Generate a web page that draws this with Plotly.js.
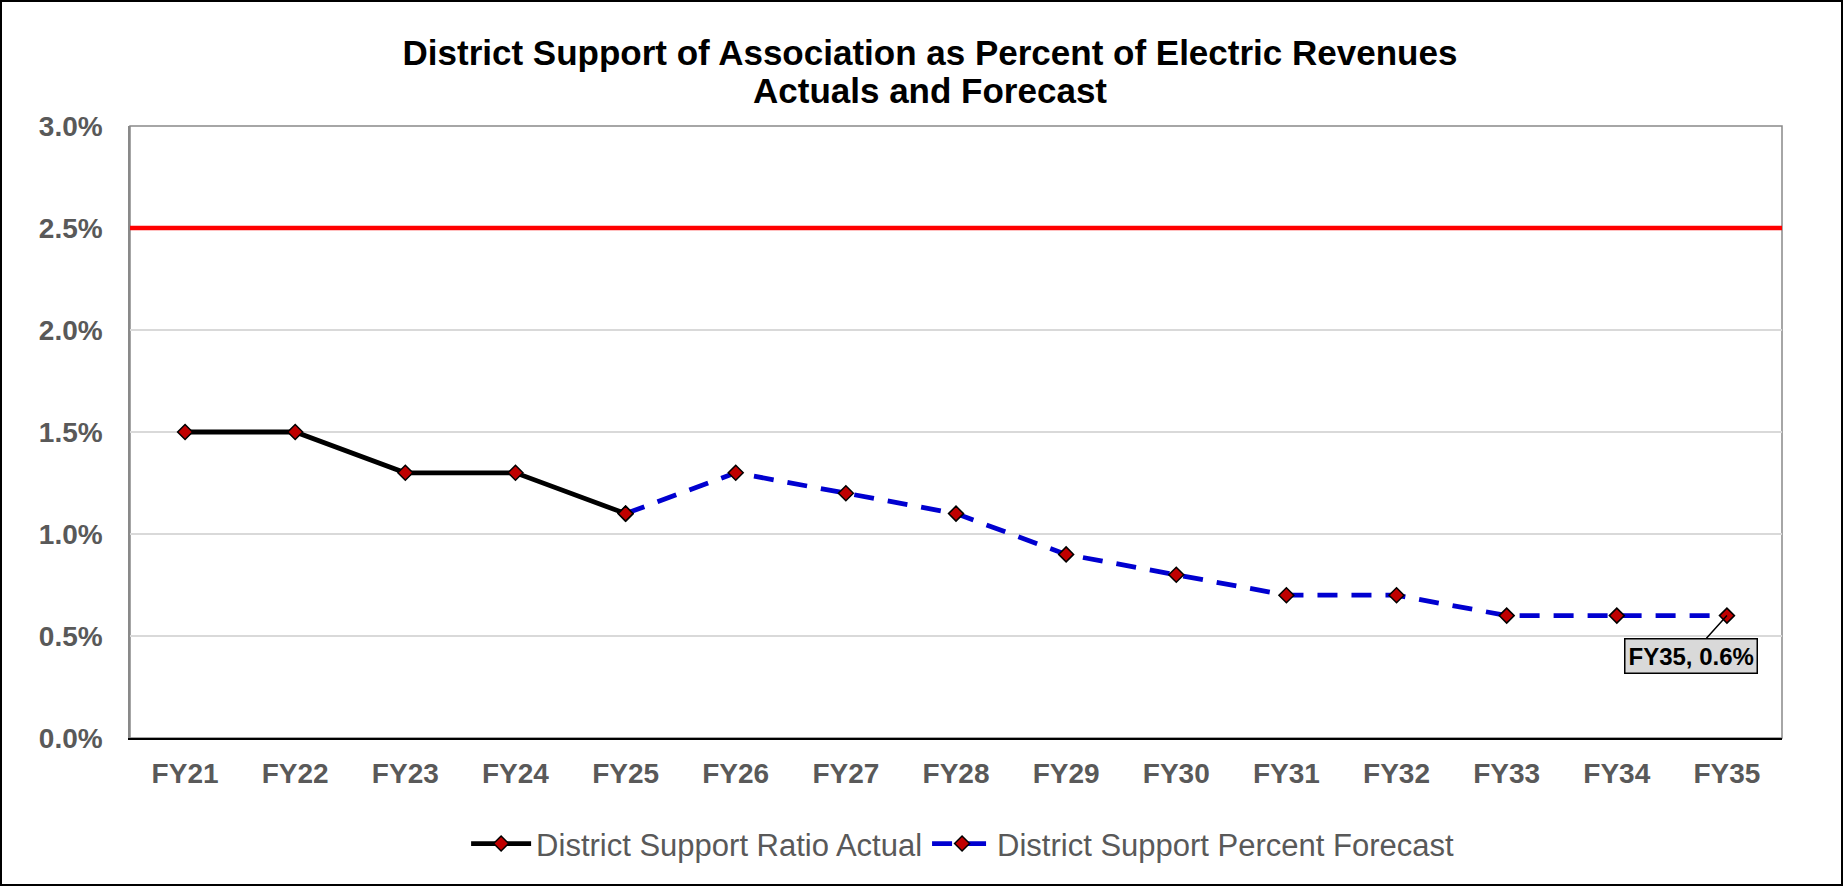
<!DOCTYPE html>
<html>
<head>
<meta charset="utf-8">
<script src="https://cdn.plot.ly/plotly-3.0.1.min.js"></script>
<style>
  html, body { margin: 0; padding: 0; background: #fff; }
  #wrap { width: 1843px; height: 886px; box-sizing: border-box; border: 2px solid #000; }
  #chart { width: 1839px; height: 882px; }
</style>
</head>
<body>
<div id="wrap"><div id="chart"></div></div>
<script>
// ---- data ----
const categories = ["FY21","FY22","FY23","FY24","FY25","FY26","FY27","FY28","FY29","FY30","FY31","FY32","FY33","FY34","FY35"];
const actualCategories = ["FY21","FY22","FY23","FY24","FY25"];
const actualValues = [0.015, 0.015, 0.013, 0.013, 0.011];
const forecastCategories = ["FY25","FY26","FY27","FY28","FY29","FY30","FY31","FY32","FY33","FY34","FY35"];
const forecastValues = [0.011, 0.013, 0.012, 0.011, 0.009, 0.008, 0.007, 0.007, 0.006, 0.006, 0.006];
const limitValue = 0.025;
const yTickValues = [0, 0.005, 0.01, 0.015, 0.02, 0.025, 0.03];
const titleLine1 = "District Support of Association as Percent of Electric Revenues";
const titleLine2 = "Actuals and Forecast";
const actualName = "District Support Ratio Actual";
const forecastName = "District Support Percent Forecast";
const calloutCategory = "FY35";
const calloutValue = 0.006;

const FONT = "Liberation Sans, Arial, sans-serif";
const markerStyle = { symbol: "diamond", size: 11.5, color: "#C00000", line: { color: "#000000", width: 1.5 } };

const traces = [
  {
    x: actualCategories, y: actualValues, name: actualName, type: "scatter", mode: "lines+markers",
    line: { color: "#000000", width: 4.8 }, marker: markerStyle, hoverinfo: "x+y"
  },
  {
    x: forecastCategories, y: forecastValues, name: forecastName, type: "scatter", mode: "lines+markers",
    line: { color: "#0000D0", width: 4.8, dash: "20px,14px" }, marker: markerStyle, hoverinfo: "x+y"
  }
];

const layout = {
  width: 1839, height: 882,
  margin: { l: 128, r: 59, t: 124, b: 146 },
  paper_bgcolor: "#ffffff", plot_bgcolor: "#ffffff",
  font: { family: FONT, color: "#595959" },
  title: {
    text: "<b>" + titleLine1 + "</b>",
    font: { family: FONT, size: 35, color: "#000000" },
    xref: "container", x: 0.5046, xanchor: "center",
    yref: "container", y: 0.942, yanchor: "middle"
  },
  xaxis: {
    type: "category", categoryorder: "array", categoryarray: categories,
    range: [-0.5, categories.length - 0.5],
    showgrid: false, zeroline: false,
    showline: true, linecolor: "#000000", linewidth: 2,
    ticks: "", ticklabelstandoff: 9,
    tickfont: { family: FONT, size: 28, color: "#595959", weight: "bold" }
  },
  yaxis: {
    range: [0, 0.03], tickvals: yTickValues, tickformat: ".1%",
    showgrid: true, gridcolor: "#D9D9D9", gridwidth: 1.5,
    zeroline: false, showline: true, linecolor: "#898989", linewidth: 1.5,
    ticks: "", ticklabelstandoff: 20,
    tickfont: { family: FONT, size: 28, color: "#595959", weight: "bold" }
  },
  shapes: [
    { type: "rect", xref: "paper", yref: "paper", x0: 0, x1: 1, y0: 0, y1: 1,
      line: { color: "#898989", width: 1.5 }, layer: "below" },
    { type: "line", xref: "paper", yref: "y", x0: 0, x1: 1, y0: limitValue, y1: limitValue,
      line: { color: "#FF0000", width: 4.5 }, layer: "above" }
  ],
  annotations: [
    { xref: "paper", yref: "paper", x: 0.484, y: 1.0588, xanchor: "center", yanchor: "middle",
      text: "<b>" + titleLine2 + "</b>", showarrow: false,
      font: { family: FONT, size: 35, color: "#000000" } },
    { x: calloutCategory, y: calloutValue, xref: "x", yref: "y",
      text: "<b>" + calloutCategory + ", " + (calloutValue * 100).toFixed(1) + "%</b>",
      font: { family: FONT, size: 24, color: "#000000" },
      bgcolor: "#D9D9D9", bordercolor: "#000000", borderwidth: 1.5, borderpad: 3,
      showarrow: true, arrowhead: 0, arrowcolor: "#000000", arrowwidth: 1.5,
      ax: -36, ay: 40, standoff: 0 }
  ],
  showlegend: true,
  legend: {
    orientation: "h", x: 0.504, xanchor: "center", y: -0.173, yanchor: "middle",
    font: { family: FONT, size: 31, color: "#595959" },
    itemwidth: 60, traceorder: "normal", bgcolor: "rgba(0,0,0,0)"
  }
};

Plotly.newPlot("chart", traces, layout, { displayModeBar: false, responsive: false });
</script>
</body>
</html>
